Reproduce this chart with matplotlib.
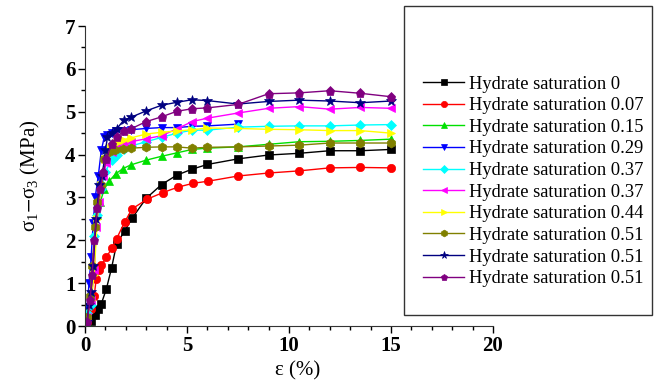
import matplotlib
matplotlib.use("Agg")
import matplotlib.pyplot as plt
from matplotlib.patches import Rectangle
from matplotlib.ticker import MultipleLocator

# strain (%) and deviator stress (MPa) for each hydrate saturation
x_s0 = [0.1, 0.3, 0.5, 0.65, 0.8, 1.05, 1.3, 1.55, 1.95, 2.3, 3.0, 3.75, 4.5, 5.25, 6.0, 7.5, 9.0, 10.5, 12.0, 13.5, 15.0]
y_s0 = [0.05, 0.12, 0.25, 0.4, 0.52, 0.87, 1.35, 1.92, 2.22, 2.51, 2.98, 3.3, 3.52, 3.66, 3.77, 3.9, 3.99, 4.03, 4.09, 4.09, 4.12]

x_s07 = [0.1, 0.3, 0.45, 0.55, 0.7, 0.8, 1.05, 1.3, 1.55, 1.95, 2.3, 3.05, 3.8, 4.55, 5.3, 6.05, 7.5, 9.0, 10.5, 12.0, 13.5, 15.0]
y_s07 = [0.1, 0.4, 0.7, 1.1, 1.3, 1.42, 1.6, 1.81, 2.04, 2.43, 2.73, 2.96, 3.11, 3.24, 3.33, 3.38, 3.5, 3.57, 3.62, 3.69, 3.7, 3.69]

x_s15 = [0.1, 0.3, 0.45, 0.6, 0.75, 0.95, 1.2, 1.5, 1.85, 2.25, 3.0, 3.75, 4.5, 5.25, 6.0, 7.5, 9.0, 10.5, 12.0, 13.5, 15.0]
y_s15 = [0.1, 0.7, 1.4, 2.6, 2.9, 3.2, 3.39, 3.55, 3.67, 3.76, 3.87, 3.96, 4.04, 4.12, 4.15, 4.18, 4.24, 4.3, 4.31, 4.33, 4.36]

x_s29 = [0.1, 0.2, 0.3, 0.4, 0.5, 0.65, 0.8, 0.95, 1.1, 1.3, 1.5, 1.85, 2.25, 3.0, 3.75, 4.5, 5.25, 6.0, 7.5]
y_s29 = [0.45, 1.0, 1.6, 2.4, 3.0, 3.5, 4.1, 4.42, 4.45, 4.5, 4.55, 4.55, 4.58, 4.61, 4.63, 4.63, 4.66, 4.67, 4.71]

x_s37a = [0.1, 0.3, 0.45, 0.6, 0.8, 1.0, 1.3, 1.55, 1.9, 2.25, 3.0, 3.75, 4.5, 5.25, 6.0, 7.5, 9.0, 10.5, 12.0, 13.5, 15.0]
y_s37a = [0.3, 0.5, 2.1, 2.6, 3.2, 3.6, 3.87, 4.0, 4.13, 4.2, 4.3, 4.4, 4.5, 4.57, 4.57, 4.64, 4.66, 4.67, 4.67, 4.69, 4.7]

x_s37b = [0.1, 0.3, 0.45, 0.55, 0.7, 0.9, 1.05, 1.3, 1.55, 1.9, 2.25, 3.0, 3.75, 4.5, 5.25, 6.0, 7.5, 9.0, 10.5, 12.0, 13.5, 15.0]
y_s37b = [0.2, 0.6, 1.3, 2.3, 2.9, 3.5, 3.8, 4.05, 4.2, 4.27, 4.3, 4.37, 4.44, 4.6, 4.77, 4.85, 4.97, 5.08, 5.12, 5.06, 5.1, 5.08]

x_s44 = [0.1, 0.3, 0.45, 0.6, 0.8, 1.0, 1.25, 1.55, 1.9, 2.25, 3.0, 3.75, 4.5, 5.25, 6.0, 7.5, 9.0, 10.5, 12.0, 13.5, 15.0]
y_s44 = [0.2, 0.6, 1.2, 2.5, 3.3, 3.9, 4.15, 4.28, 4.35, 4.39, 4.48, 4.52, 4.55, 4.58, 4.62, 4.61, 4.59, 4.58, 4.56, 4.56, 4.5]

x_s51a = [0.1, 0.25, 0.35, 0.5, 0.6, 0.8, 0.95, 1.2, 1.45, 1.85, 2.25, 3.0, 3.75, 4.5, 5.25, 6.0, 7.5, 9.0, 10.5, 12.0, 13.5, 15.0]
y_s51a = [0.2, 0.7, 1.4, 2.3, 2.9, 3.3, 3.9, 4.05, 4.1, 4.13, 4.15, 4.17, 4.18, 4.18, 4.15, 4.17, 4.18, 4.2, 4.22, 4.27, 4.27, 4.27]

x_s51b = [0.1, 0.2, 0.3, 0.4, 0.55, 0.7, 0.85, 1.0, 1.1, 1.3, 1.55, 1.9, 2.25, 3.0, 3.75, 4.5, 5.25, 6.0, 7.5, 9.0, 10.5, 12.0, 13.5, 15.0]
y_s51b = [0.1, 0.5, 0.8, 1.4, 2.5, 3.3, 3.5, 4.1, 4.4, 4.5, 4.6, 4.8, 4.87, 5.02, 5.15, 5.22, 5.28, 5.26, 5.18, 5.24, 5.27, 5.25, 5.21, 5.25]

x_s51c = [0.1, 0.25, 0.35, 0.45, 0.6, 0.75, 0.9, 1.05, 1.3, 1.55, 1.9, 2.25, 3.0, 3.75, 4.5, 5.25, 6.0, 7.5, 9.0, 10.5, 12.0, 13.5, 15.0]
y_s51c = [0.1, 0.6, 1.2, 2.0, 2.75, 3.2, 3.6, 3.9, 4.25, 4.4, 4.55, 4.6, 4.77, 4.88, 5.01, 5.07, 5.09, 5.17, 5.42, 5.44, 5.49, 5.43, 5.35]

labels = ["Hydrate saturation 0", "Hydrate saturation 0.07", "Hydrate saturation 0.15",
          "Hydrate saturation 0.29", "Hydrate saturation 0.37", "Hydrate saturation 0.37",
          "Hydrate saturation 0.44", "Hydrate saturation 0.51", "Hydrate saturation 0.51",
          "Hydrate saturation 0.51"]
xticks = [0, 5, 10, 15, 20]
yticks = [0, 1, 2, 3, 4, 5, 6, 7]

series = [(x_s0, y_s0), (x_s07, y_s07), (x_s15, y_s15), (x_s29, y_s29), (x_s37a, y_s37a),
          (x_s37b, y_s37b), (x_s44, y_s44), (x_s51a, y_s51a), (x_s51b, y_s51b), (x_s51c, y_s51c)]
colors = ["#000000", "#ff0000", "#00e000", "#0000ff", "#00ffff", "#ff00ff",
          "#ffff00", "#808000", "#000080", "#800080"]
markers = ["s", "o", "^", "v", "D", "<", ">", "h", "*", "p"]
msizes = [5.5, 6, 6, 6, 5, 6, 6, 6.5, 7.5, 6.5]

plt.rcParams["font.family"] = ["Liberation Serif", "DejaVu Serif"]
plt.rcParams["mathtext.fontset"] = "stix"

fig = plt.figure(figsize=(6.72, 3.86), dpi=100)
ax = fig.add_axes([0.1265, 0.1554, 0.6071, 0.7772])

handles = []
for (xs, ys), c, m, ms, lab in zip(series, colors, markers, msizes, labels):
    h, = ax.plot(xs, ys, color=c, marker=m, markersize=ms, markeredgewidth=0.5,
                 markeredgecolor=c, linewidth=1.0, label=lab)
    handles.append(h)

ax.set_xlim(0, 20)
ax.set_ylim(0, 7)
ax.set_xticks(xticks, [str(t) for t in xticks], fontweight="bold", fontsize=15)
ax.set_yticks(yticks, [str(t) for t in yticks], fontweight="bold", fontsize=15)
ax.xaxis.set_minor_locator(MultipleLocator(1))
ax.yaxis.set_minor_locator(MultipleLocator(0.5))
ax.tick_params(which="major", direction="out", length=5, width=1, pad=2)
ax.tick_params(which="minor", direction="out", length=3, width=1)
ax.spines["top"].set_visible(False)
ax.spines["right"].set_visible(False)
ax.spines["left"].set_color("#333333")
ax.spines["bottom"].set_color("#333333")

ax.set_ylabel(r"$\mathregular{\sigma_1}$$-$$\mathregular{\sigma_3}$ (MPa)", fontsize=15)
ax.yaxis.set_label_coords(-0.105, 0.5)
ax.set_xlabel("ε (%)", fontsize=15)
ax.xaxis.set_label_coords(0.52, -0.118)

# legend box (tall frame like the original)
box = Rectangle((404 / 672, 1 - 315 / 386), 248 / 672, 309 / 386, transform=fig.transFigure,
                facecolor="white", edgecolor="#333333", linewidth=1.0, zorder=5)
fig.patches.append(box)
leg = fig.legend(handles=handles, loc="center left", bbox_to_anchor=(0.605, 0.53),
                 frameon=False, fontsize=13.3, handlelength=2.2, handletextpad=0.3,
                 labelspacing=0.25, markerscale=0.75)
leg.set_zorder(6)

fig.savefig("out.png", dpi=100)
